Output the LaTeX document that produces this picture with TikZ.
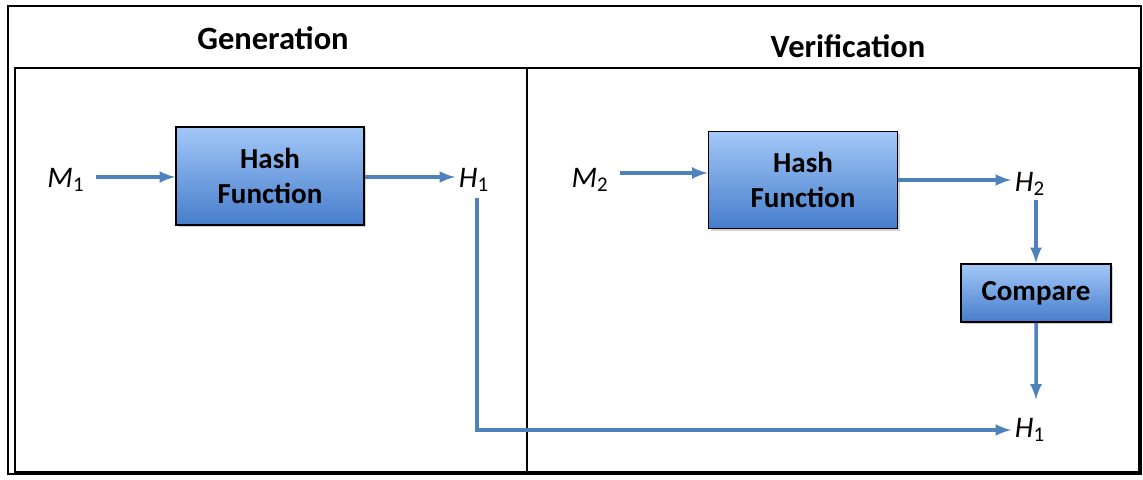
\documentclass[tikz,border=0pt]{standalone}
\usepackage{fontspec}
\setmainfont{Carlito}
\usepackage{tikz}
\usetikzlibrary{calc,shadows}
\definecolor{flowblue}{HTML}{4F81BD}
\definecolor{boxtop}{HTML}{A3C8F8}
\definecolor{boxbottom}{HTML}{467DCB}
\tikzset{
  hashbox/.style={draw=black, line width=1pt, top color=boxtop, bottom color=boxbottom,
    drop shadow={shadow xshift=1.2pt, shadow yshift=-1.2pt, opacity=.35},
    align=center, font=\fontsize{16.5}{20}\selectfont\bfseries},
  flow/.style={draw=flowblue, line width=2pt, -latex},
  var/.style={font=\fontsize{17}{19}\selectfont, inner sep=2pt}
}

\begin{document}
\begin{tikzpicture}[x=0.02cm, y=-0.02cm]
    \useasboundingbox (0,0) rectangle (1143,480);
    \draw[line width=1.2pt] (8,6) rectangle (1141,474);
    \draw[line width=1pt] (15,68) rectangle (1139,472);
    \draw[line width=1.6pt] (527,68) -- (527,474);
    \node[font=\fontsize{18.5}{21}\selectfont\bfseries] (gen) at (273,38) {Generation};
    \node[font=\fontsize{18.5}{21}\selectfont\bfseries] (ver) at (848,46) {Verification};

    % generation side
    \node[hashbox, minimum width=3.76cm, minimum height=1.96cm] (hashA) at (270,176) {Hash\\Function};
    \node[var] (mA) at (66,180) {\textit{M}\textsubscript{1}};
    \node[var] (hA) at (474,180) {\textit{H}\textsubscript{1}};
    \draw[flow] (mA.east) ++(8,-3) coordinate (mAout) -- (mAout -| hashA.west);
    \draw[flow] (hashA.east |- hA.west) ++(0,-3) coordinate (hAin) -- (hAin -| hA.west);

    % verification side
    \node[hashbox, minimum width=3.78cm, minimum height=1.94cm] (hashB) at (803,180) {Hash\\Function};
    \node[hashbox, minimum width=3cm, minimum height=1.16cm] (cmp) at (1036,293) {Compare};
    \node[var] (mB) at (590,180) {\textit{M}\textsubscript{2}};
    \node[var] (hB) at (1030,184) {\textit{H}\textsubscript{2}};
    \node[var] (hC) at (1030,430) {\textit{H}\textsubscript{1}};
    \draw[flow] (mB.east) ++(8,-7) coordinate (mBout) -- (mBout -| hashB.west);
    \draw[flow] (hashB.east) -- (hashB.east -| hB.west);
    \draw[flow] (hB.south -| cmp.north) -- (cmp.north);
    \draw[flow] (cmp.south) -- ($(cmp.south)!0.84!(cmp.south |- hC.north)$);
    \draw[flow] (hA.south) ++(3,2) -- ++(0,0) |- (hC.west);
\end{tikzpicture}
\end{document}
